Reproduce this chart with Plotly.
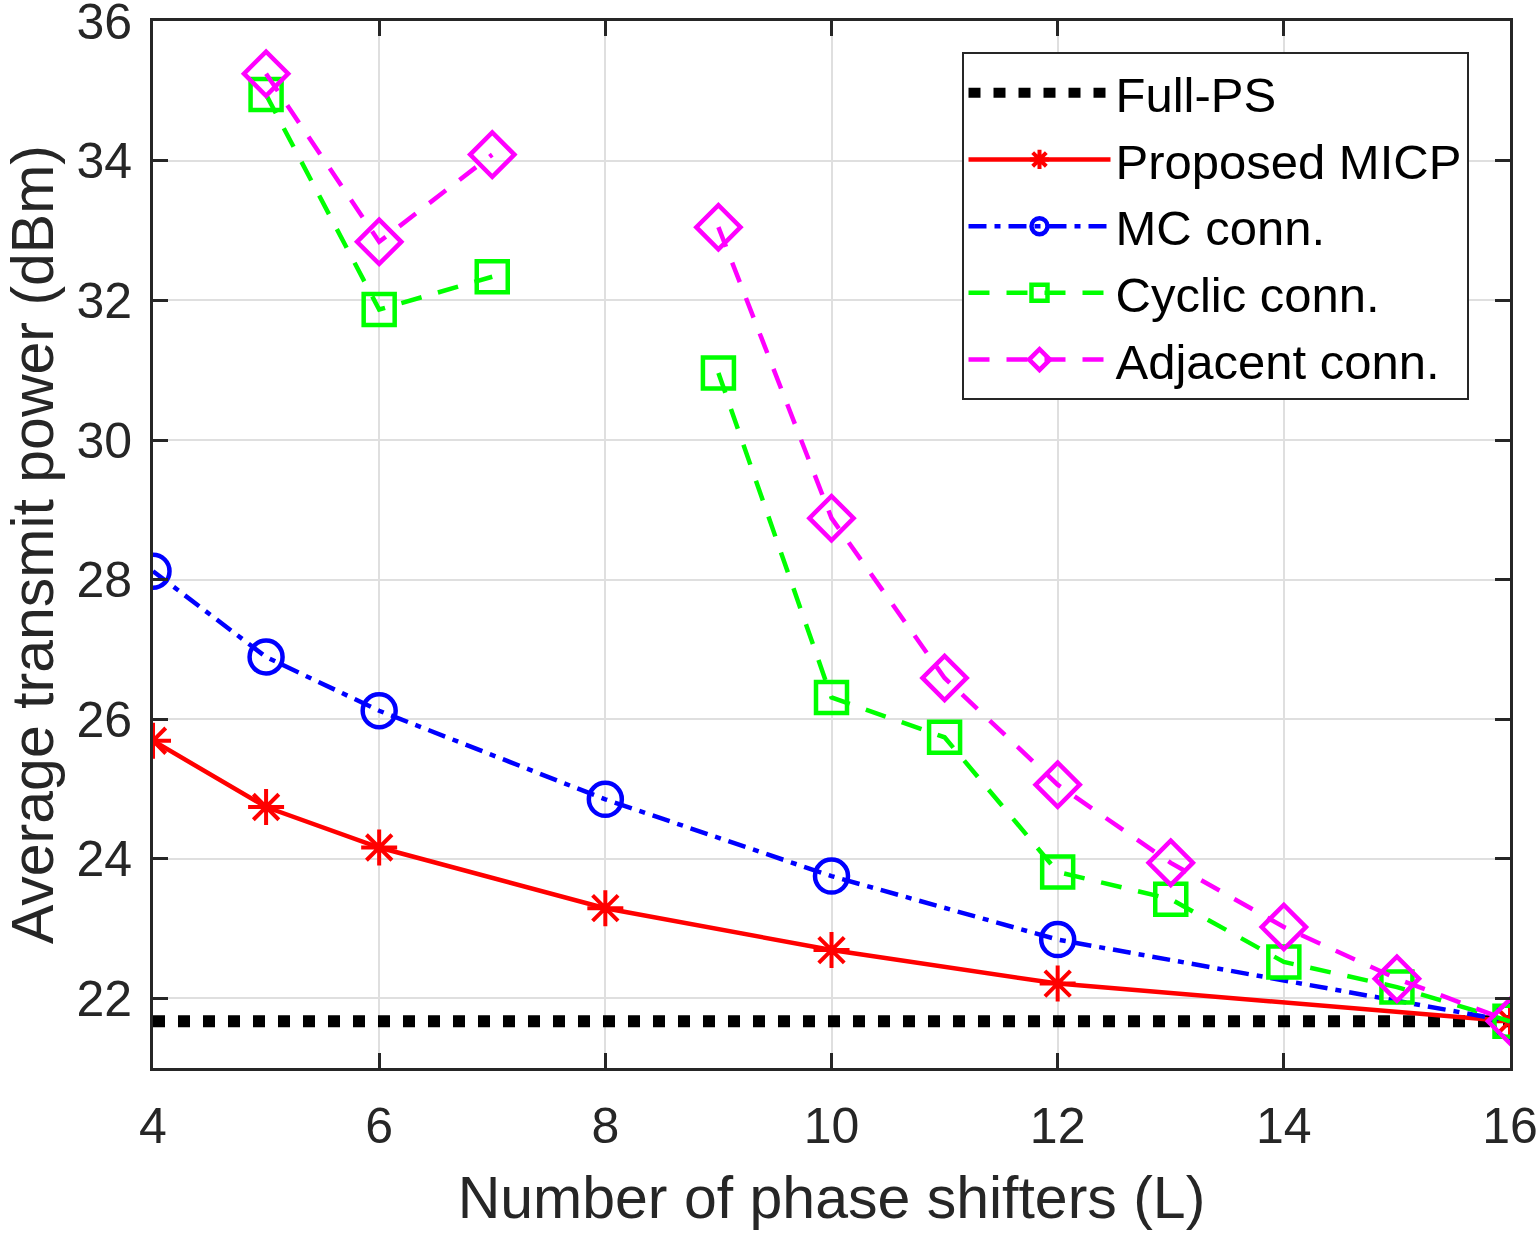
import plotly.graph_objects as go

# ---- data ----
L_full = [4, 16]
full_ps = [21.67, 21.67]

L_micp = [4, 5, 6, 8, 10, 12, 16]
micp = [25.69, 24.74, 24.16, 23.29, 22.69, 22.21, 21.67]

L_mc = [4, 5, 6, 8, 10, 12, 16]
mc = [28.12, 26.89, 26.12, 24.85, 23.75, 22.84, 21.67]

L_conn = [5, 6, 7, 8, 9, 10, 11, 12, 13, 14, 15, 16]
cyclic = [34.95, 31.87, 32.34, None, 30.96, 26.31, 25.74, 23.81, 23.42, 22.52, 22.16, 21.67]
adjacent = [35.25, 32.84, 34.09, None, 33.05, 28.88, 26.59, 25.06, 23.94, 23.02, 22.28, 21.67]

x_ticks = [4, 6, 8, 10, 12, 14, 16]
y_ticks = [22, 24, 26, 28, 30, 32, 34, 36]

FONT = "Liberation Sans, Arial, Helvetica, sans-serif"
AX = "#262626"

fig = go.Figure()

fig.add_trace(go.Scatter(
    x=L_full, y=full_ps, mode="lines", name="Full-PS",
    line=dict(color="black", width=12, dash="12px,13px")))

fig.add_trace(go.Scatter(
    x=L_micp, y=micp, mode="lines+markers", name="Proposed MICP",
    line=dict(color="#ff0000", width=4.5),
    marker=dict(symbol="asterisk-open", size=30, color="#ff0000",
                line=dict(color="#ff0000", width=4))))

fig.add_trace(go.Scatter(
    x=L_mc, y=mc, mode="lines+markers", name="MC conn.",
    line=dict(color="#0000ff", width=4.5, dash="18px,8px,6px,8px"),
    marker=dict(symbol="circle-open", size=33, color="#0000ff",
                line=dict(color="#0000ff", width=4.5))))

fig.add_trace(go.Scatter(
    x=L_conn, y=cyclic, mode="lines+markers", name="Cyclic conn.",
    line=dict(color="#00ff00", width=4.5, dash="21px,17px"),
    marker=dict(symbol="square-open", size=31, color="#00ff00",
                line=dict(color="#00ff00", width=4.5))))

fig.add_trace(go.Scatter(
    x=L_conn, y=adjacent, mode="lines+markers", name="Adjacent conn.",
    line=dict(color="#ff00ff", width=4.5, dash="21px,17px"),
    marker=dict(symbol="diamond-open", size=34, color="#ff00ff",
                line=dict(color="#ff00ff", width=4.5))))

fig.update_layout(
    width=1538, height=1233,
    margin=dict(l=153, r=28, t=21, b=165),
    paper_bgcolor="white", plot_bgcolor="white",
    font=dict(family=FONT, size=50, color=AX),
    legend=dict(
        x=0.5958, y=0.97, xanchor="left", yanchor="top",
        bgcolor="white", bordercolor=AX, borderwidth=2,
        font=dict(family=FONT, size=49, color="black"),
        itemwidth=142, tracegroupgap=0,
    ),
    showlegend=True,
)

fig.update_xaxes(
    range=[4, 16], tickvals=x_ticks, ticktext=[str(v) for v in x_ticks],
    showgrid=True, gridcolor="#dfdfdf", gridwidth=2,
    showline=True, linecolor=AX, linewidth=3, mirror="ticks",
    ticks="inside", ticklen=15, tickwidth=3, tickcolor=AX,
    ticklabelstandoff=12, ticklabeloverflow="allow", automargin=False,
    zeroline=False,
    tickfont=dict(family=FONT, size=50, color=AX),
    title=dict(text="Number of phase shifters (L)", standoff=24,
               font=dict(family=FONT, size=59, color=AX)),
)
fig.update_yaxes(
    range=[21, 36.005], tickvals=y_ticks, ticktext=[str(v) for v in y_ticks],
    showgrid=True, gridcolor="#dfdfdf", gridwidth=2,
    showline=True, linecolor=AX, linewidth=3, mirror="ticks",
    ticks="inside", ticklen=15, tickwidth=3, tickcolor=AX,
    ticklabelstandoff=8, ticklabeloverflow="allow", automargin=False,
    zeroline=False,
    tickfont=dict(family=FONT, size=50, color=AX),
    title=dict(text="Average transmit power (dBm)", standoff=12,
               font=dict(family=FONT, size=59, color=AX)),
)

fig.write_html("out.html")
